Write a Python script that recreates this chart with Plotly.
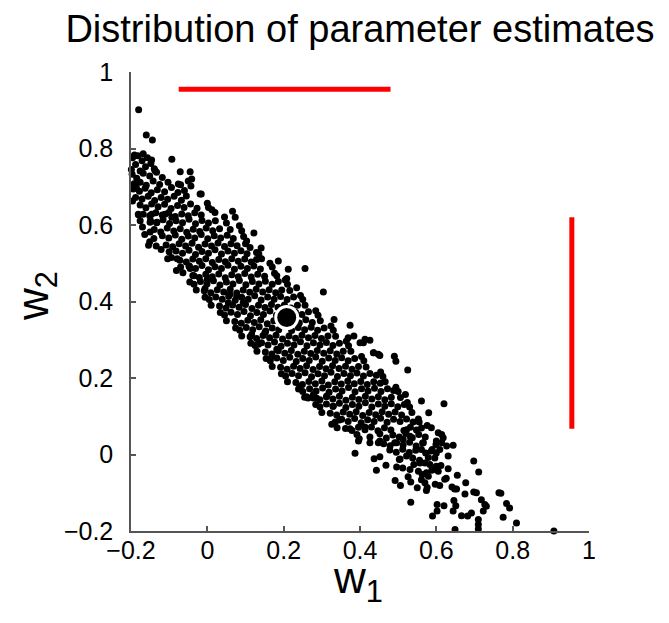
import plotly.graph_objects as go

# ---- data (w1, w2) ----
band_top = [
    (-0.196,0.776),(-0.182,0.781),(-0.171,0.768),(-0.188,0.758),(-0.162,0.752),(-0.148,0.761),(-0.199,0.745),(-0.176,0.741),(-0.139,0.747),(-0.157,0.776),
    (-0.197,0.733),(-0.185,0.722),(-0.168,0.735),(-0.151,0.728),(-0.133,0.738),(-0.118,0.724),(-0.192,0.708),(-0.176,0.712),(-0.160,0.704),(-0.142,0.715),(-0.125,0.706),(-0.103,0.712),(-0.186,0.699),
    (-0.194,0.694),(-0.178,0.688),(-0.163,0.696),(-0.147,0.684),(-0.131,0.692),(-0.112,0.687),(-0.094,0.698),(-0.077,0.685),(-0.188,0.672),(-0.171,0.668),(-0.155,0.675),(-0.138,0.664),(-0.121,0.672),(-0.104,0.667),(-0.087,0.675),(-0.068,0.665),(-0.055,0.676),
    (-0.176,0.652),(-0.161,0.645),(-0.146,0.655),(-0.129,0.648),(-0.112,0.654),(-0.095,0.643),(-0.078,0.651),(-0.061,0.646),(-0.044,0.655),(-0.027,0.644),(-0.168,0.628),(-0.151,0.624),(-0.135,0.632),(-0.118,0.626),(-0.101,0.633),(-0.084,0.622),(-0.067,0.629),(-0.050,0.624),(-0.033,0.632),(-0.016,0.626),
    (-0.149,0.612),(-0.133,0.606),(-0.116,0.614),(-0.099,0.604),(-0.082,0.611),(-0.065,0.606),(-0.048,0.615),(-0.031,0.603),(-0.014,0.612),(0.003,0.605),(0.021,0.611),(-0.139,0.588),(-0.122,0.582),(-0.105,0.592),(-0.088,0.584),(-0.071,0.590),(-0.054,0.581),(-0.037,0.589),(-0.020,0.583),(-0.003,0.592),(0.014,0.585),(0.032,0.590),
]
band_mid = [
    (-0.118,0.572),(-0.101,0.566),(-0.084,0.574),(-0.067,0.563),(-0.050,0.571),(-0.033,0.566),(-0.016,0.575),(0.001,0.564),(0.018,0.572),(0.035,0.566),(0.052,0.573),(0.068,0.565),(-0.108,0.548),(-0.091,0.543),(-0.074,0.551),(-0.057,0.545),(-0.040,0.552),(-0.023,0.542),(-0.006,0.550),(0.011,0.545),(0.028,0.553),(0.045,0.544),(0.062,0.551),(0.078,0.546),
    (-0.082,0.532),(-0.065,0.526),(-0.048,0.534),(-0.031,0.523),(-0.014,0.531),(0.003,0.526),(0.020,0.535),(0.037,0.524),(0.054,0.532),(0.071,0.526),(0.088,0.533),(0.104,0.525),(-0.072,0.508),(-0.055,0.503),(-0.038,0.511),(-0.021,0.505),(-0.004,0.512),(0.013,0.502),(0.030,0.510),(0.047,0.504),(0.064,0.512),(0.081,0.505),(0.098,0.511),(0.115,0.503),
    (-0.048,0.492),(-0.031,0.486),(-0.014,0.494),(0.003,0.483),(0.020,0.491),(0.037,0.486),(0.054,0.495),(0.071,0.484),(0.088,0.492),(0.105,0.486),(0.122,0.493),(0.139,0.485),(-0.038,0.468),(-0.021,0.463),(-0.004,0.471),(0.013,0.465),(0.030,0.472),(0.047,0.462),(0.064,0.470),(0.081,0.465),(0.098,0.473),(0.115,0.464),(0.132,0.471),(0.150,0.466),
    (-0.018,0.452),(-0.001,0.446),(0.016,0.454),(0.033,0.443),(0.050,0.451),(0.067,0.446),(0.084,0.455),(0.101,0.444),(0.118,0.452),(0.135,0.446),(0.152,0.453),(0.170,0.445),(0.186,0.452),(-0.008,0.428),(0.009,0.423),(0.026,0.431),(0.043,0.425),(0.060,0.432),(0.077,0.422),(0.094,0.430),(0.111,0.424),(0.128,0.432),(0.145,0.425),(0.162,0.431),(0.179,0.423),(0.195,0.430),
    (0.022,0.412),(0.039,0.406),(0.056,0.414),(0.073,0.403),(0.090,0.411),(0.107,0.406),(0.124,0.415),(0.141,0.404),(0.158,0.412),(0.175,0.406),(0.192,0.413),(0.209,0.405),(0.226,0.412),(0.032,0.388),(0.049,0.383),(0.066,0.391),(0.083,0.385),(0.100,0.392),(0.117,0.382),(0.134,0.390),(0.151,0.384),(0.168,0.392),(0.185,0.385),(0.202,0.391),(0.219,0.383),(0.236,0.390),
    (0.062,0.372),(0.079,0.366),(0.096,0.374),(0.113,0.363),(0.130,0.371),(0.147,0.366),(0.164,0.375),(0.181,0.364),(0.231,0.372),(0.248,0.366),(0.265,0.373),(0.072,0.348),(0.089,0.343),(0.106,0.351),(0.123,0.345),(0.140,0.352),(0.157,0.342),(0.174,0.350),(0.241,0.344),(0.258,0.352),(0.275,0.345),(0.198,0.368),(0.215,0.345),
    (0.102,0.332),(0.119,0.326),(0.136,0.334),(0.153,0.323),(0.170,0.331),(0.187,0.326),(0.204,0.335),(0.221,0.324),(0.238,0.332),(0.255,0.326),(0.272,0.333),(0.289,0.325),(0.306,0.331),(0.112,0.308),(0.129,0.303),(0.146,0.311),(0.163,0.305),(0.180,0.312),(0.197,0.302),(0.214,0.310),(0.231,0.304),(0.248,0.312),(0.265,0.305),(0.282,0.311),(0.299,0.303),(0.316,0.310),
]
band_low = [
    (0.142,0.292),(0.159,0.286),(0.176,0.294),(0.193,0.283),(0.210,0.291),(0.227,0.286),(0.244,0.295),(0.261,0.284),(0.278,0.292),(0.295,0.286),(0.312,0.293),(0.329,0.285),(0.346,0.291),(0.152,0.268),(0.169,0.263),(0.186,0.271),(0.203,0.265),(0.220,0.272),(0.237,0.262),(0.254,0.270),(0.271,0.264),(0.288,0.272),(0.305,0.265),(0.322,0.271),(0.339,0.263),(0.356,0.270),
    (0.182,0.252),(0.199,0.246),(0.216,0.254),(0.233,0.243),(0.250,0.251),(0.267,0.246),(0.284,0.255),(0.301,0.244),(0.318,0.252),(0.335,0.246),(0.352,0.253),(0.369,0.245),(0.386,0.251),(0.192,0.228),(0.209,0.223),(0.226,0.231),(0.243,0.225),(0.260,0.232),(0.277,0.222),(0.294,0.230),(0.311,0.224),(0.328,0.232),(0.345,0.225),(0.362,0.231),(0.379,0.223),(0.396,0.230),
    (0.222,0.212),(0.239,0.206),(0.256,0.214),(0.273,0.203),(0.290,0.211),(0.307,0.206),(0.324,0.215),(0.341,0.204),(0.358,0.212),(0.375,0.206),(0.392,0.213),(0.409,0.205),(0.426,0.212),(0.443,0.207),(0.232,0.188),(0.249,0.183),(0.266,0.191),(0.283,0.185),(0.300,0.192),(0.317,0.182),(0.334,0.190),(0.351,0.184),(0.368,0.192),(0.385,0.185),(0.402,0.191),(0.419,0.183),(0.436,0.190),(0.453,0.186),
    (0.268,0.172),(0.285,0.166),(0.302,0.174),(0.319,0.163),(0.336,0.171),(0.353,0.166),(0.370,0.175),(0.387,0.164),(0.404,0.172),(0.421,0.166),(0.438,0.173),(0.455,0.165),(0.472,0.172),(0.488,0.167),(0.278,0.148),(0.295,0.143),(0.312,0.151),(0.329,0.145),(0.346,0.152),(0.363,0.142),(0.380,0.150),(0.397,0.144),(0.414,0.152),(0.431,0.145),(0.448,0.151),(0.465,0.143),(0.482,0.150),
    (0.312,0.132),(0.329,0.126),(0.346,0.134),(0.363,0.123),(0.380,0.131),(0.397,0.126),(0.414,0.135),(0.431,0.124),(0.448,0.132),(0.465,0.126),(0.482,0.133),(0.499,0.125),(0.516,0.131),(0.322,0.108),(0.339,0.103),(0.356,0.111),(0.373,0.105),(0.390,0.112),(0.407,0.102),(0.424,0.110),(0.441,0.104),(0.458,0.112),(0.475,0.105),(0.492,0.111),(0.509,0.103),
    (0.352,0.092),(0.369,0.086),(0.386,0.094),(0.403,0.083),(0.420,0.091),(0.437,0.086),(0.454,0.095),(0.471,0.084),(0.488,0.092),(0.505,0.086),(0.522,0.093),(0.539,0.085),(0.362,0.068),(0.379,0.063),(0.396,0.071),(0.413,0.065),(0.430,0.072),(0.447,0.062),(0.464,0.070),(0.481,0.064),(0.515,0.063),(0.532,0.071),(0.548,0.064),
    (0.392,0.052),(0.426,0.046),(0.452,0.054),(0.469,0.043),(0.486,0.051),(0.503,0.046),(0.520,0.055),(0.537,0.044),(0.554,0.052),(0.571,0.046),(0.462,0.028),(0.479,0.023),(0.496,0.031),(0.513,0.025),(0.530,0.032),(0.547,0.022),(0.564,0.030),
    (0.478,0.012),(0.495,0.006),(0.512,0.014),(0.529,0.005),(0.546,0.011),(0.572,0.004),(0.589,0.013),(0.452,-0.006),(0.505,-0.012),(0.522,-0.004),(0.556,-0.015),(0.579,-0.008),
    (0.468,-0.028),(0.512,-0.035),(0.541,-0.026),(0.563,-0.052),(0.588,-0.041),(0.612,-0.029),(0.526,-0.058),
    (0.492,-0.068),(0.533,-0.072),(0.561,-0.066),(0.597,-0.078),(0.626,-0.062),(0.641,-0.085),(0.574,-0.094),
]
band_fringe = [
    (-0.070,0.705),(-0.060,0.690),(-0.050,0.715),(0.000,0.657),(0.012,0.640),
    (-0.170,0.595),(-0.176,0.611),(-0.164,0.575),(0.050,0.605),(0.060,0.588),(0.045,0.621),
    (-0.140,0.565),(-0.134,0.545),(-0.151,0.556),(0.095,0.570),(0.100,0.551),(0.090,0.585),
    (-0.100,0.530),(-0.094,0.515),(-0.121,0.536),(0.135,0.524),(0.141,0.540),(0.129,0.510),
    (-0.070,0.490),(-0.064,0.475),(-0.081,0.481),(0.170,0.490),(0.176,0.474),(0.164,0.500),
    (-0.035,0.445),(-0.029,0.430),(-0.046,0.451),(0.210,0.445),(0.216,0.429),(0.204,0.456),
    (0.005,0.405),(0.010,0.390),(-0.006,0.411),(0.250,0.405),(0.256,0.390),(0.244,0.416),
    (0.045,0.365),(0.050,0.350),(0.034,0.371),(0.290,0.364),(0.296,0.350),(0.284,0.376),
    (0.085,0.325),(0.090,0.310),(0.074,0.331),(0.330,0.325),(0.336,0.309),(0.324,0.336),
    (0.125,0.285),(0.130,0.270),(0.114,0.291),(0.370,0.284),(0.376,0.270),(0.364,0.296),
    (0.165,0.245),(0.170,0.230),(0.154,0.251),(0.410,0.245),(0.416,0.229),(0.404,0.256),
    (0.205,0.205),(0.210,0.190),(0.194,0.211),(0.460,0.204),(0.466,0.190),(0.454,0.216),
    (0.250,0.165),(0.255,0.150),(0.239,0.171),(0.500,0.165),(0.506,0.149),(0.494,0.176),
    (0.295,0.125),(0.300,0.110),(0.284,0.131),(0.530,0.124),(0.536,0.110),(0.524,0.136),
    (0.335,0.085),(0.340,0.070),(0.555,0.085),(0.561,0.069),
]
edge_upper = [
    (-0.180,0.901),(-0.160,0.835),(-0.144,0.822),(-0.093,0.772),(-0.071,0.739),(-0.045,0.739),(-0.191,0.783),(-0.168,0.786),(-0.146,0.770),(-0.137,0.742),
    (-0.196,0.663),(-0.180,0.627),(-0.154,0.547),(-0.150,0.582),(-0.181,0.628),(-0.146,0.628),(-0.111,0.628),(-0.093,0.620),(-0.150,0.607),(-0.132,0.607),
    (-0.104,0.512),(-0.079,0.512),(-0.047,0.493),(-0.019,0.681),(-0.043,0.702),(-0.041,0.720),(-0.076,0.707),(-0.016,0.681),(0.003,0.646),(0.020,0.633),
    (0.066,0.636),(0.073,0.620),(0.084,0.598),(0.122,0.579),(0.103,0.558),(0.112,0.541),(0.129,0.528),(0.142,0.512),(0.186,0.506),(0.212,0.484),
    (0.256,0.486),(0.208,0.460),(0.182,0.467),(0.234,0.436),(0.304,0.425),(0.332,0.353),(0.374,0.338),(0.413,0.301),(0.426,0.299),(0.436,0.266),
    (0.448,0.262),(0.490,0.257),(0.494,0.244),(0.525,0.221),(0.384,0.310),(0.369,0.305),(0.409,0.292),(0.400,0.292),(0.452,0.259),(0.435,0.266),
    (0.116,0.314),(0.151,0.319),(0.134,0.288),(0.169,0.256),(0.182,0.275),(-0.045,0.486),(-0.035,0.467),(-0.006,0.434),(0.000,0.458),(0.055,0.397),
    (0.059,0.419),(0.094,0.397),(0.077,0.414),
]
edge_lower = [
    (0.243,0.177),(0.264,0.148),(0.278,0.157),(0.326,0.079),(0.346,0.090),(0.313,0.153),(0.330,0.126),(0.260,0.151),(0.286,0.148),(0.374,0.067),
    (0.413,0.072),(0.398,0.041),(0.448,0.031),(0.387,0.003),(0.396,0.035),(0.426,0.031),(0.452,0.035),(0.437,-0.011),(0.443,-0.041),
    (0.519,0.157),(0.561,0.140),(0.620,0.133),(0.580,0.109),(0.553,0.093),(0.576,0.076),(0.587,0.070),(0.605,0.057),(0.614,0.052),(0.644,0.024),
    (0.698,-0.017),(0.711,-0.046),(0.769,-0.101),(0.784,-0.128),(0.792,-0.140),(0.775,-0.164),(0.810,-0.179),(0.908,-0.200),(0.649,-0.196),
    (0.710,-0.170),(0.710,-0.183),(0.710,-0.195),(0.590,-0.161),(0.602,-0.148),(0.602,-0.131),(0.620,-0.134),(0.644,-0.148),(0.666,-0.160),
    (0.682,-0.161),(0.692,-0.153),(0.646,-0.120),(0.651,-0.134),(0.718,-0.118),(0.727,-0.131),(0.731,-0.135),(0.723,-0.148),(0.698,-0.098),
    (0.705,-0.100),(0.675,-0.103),(0.648,-0.090),(0.653,-0.090),(0.677,-0.074),(0.655,-0.054),(0.631,-0.037),(0.622,-0.065),(0.609,-0.081),
    (0.576,-0.086),(0.570,-0.074),(0.550,-0.087),(0.533,-0.125),(0.506,-0.081),(0.574,-0.048),(0.579,-0.057),(0.599,-0.039),(0.605,-0.044),
    (0.600,-0.031),(0.553,-0.044),(0.531,-0.039),(0.557,-0.022),(0.570,-0.022),(0.583,-0.026),(0.496,-0.033),(0.503,-0.013),(0.538,-0.009),
    (0.596,-0.009),(0.600,0.004),(0.609,0.013),(0.561,0.013),(0.566,0.031),(0.587,0.009),(0.631,-0.004),(0.627,0.022),(0.599,0.026),
    (0.600,0.035),(0.618,0.044),(0.614,0.031),(0.491,0.031),(0.513,0.039),(0.531,0.048),(0.522,0.065),(0.764,-0.100),
]

estimate_w1 = [0.208]
estimate_w2 = [0.358]

interval_w1_x = [-0.075, 0.48]   # horizontal red bar (range of w1)
interval_w1_y = [0.955, 0.955]
interval_w2_x = [0.955, 0.955]   # vertical red bar (range of w2)
interval_w2_y = [0.067, 0.62]

tick_vals = [-0.2, 0, 0.2, 0.4, 0.6, 0.8, 1]
tick_text = ["\u22120.2", "0", "0.2", "0.4", "0.6", "0.8", "1"]

all_pts = band_top + band_mid + band_low + band_fringe + edge_upper + edge_lower
w1 = [p[0] for p in all_pts]
w2 = [p[1] for p in all_pts]

FONT = "Liberation Sans, Arial, Helvetica, sans-serif"

fig = go.Figure()
fig.add_trace(go.Scatter(x=w1, y=w2, mode="markers",
                         marker=dict(size=7, color="black", line=dict(width=0)),
                         cliponaxis=False, showlegend=False))
fig.add_trace(go.Scatter(x=interval_w1_x, y=interval_w1_y, mode="lines",
                         line=dict(color="#ff0000", width=5), showlegend=False))
fig.add_trace(go.Scatter(x=interval_w2_x, y=interval_w2_y, mode="lines",
                         line=dict(color="#ff0000", width=5), showlegend=False))
fig.add_trace(go.Scatter(x=estimate_w1, y=estimate_w2, mode="markers",
                         marker=dict(size=22, color="black", line=dict(color="white", width=3)),
                         cliponaxis=False, showlegend=False))

axis_common = dict(
    range=[-0.2, 1], tickvals=tick_vals, ticktext=tick_text,
    showgrid=False, zeroline=False, showline=True, linecolor="#555555", linewidth=1.5,
    ticks="inside", ticklen=5, tickwidth=1.5, tickcolor="#555555",
    tickfont=dict(family=FONT, size=25, color="black"),
    automargin=False,
)

fig.update_layout(
    width=669, height=623,
    margin=dict(l=131, r=80, t=72, b=92),
    paper_bgcolor="white", plot_bgcolor="white",
    title=dict(text="Distribution of parameter estimates", x=0.5, xref="paper",
               y=1 - 29 / 623, yref="container", yanchor="middle", xanchor="center",
               font=dict(family=FONT, size=38, color="black"), automargin=False),
    xaxis=dict(**axis_common, ticklabelstandoff=-4),
    yaxis=dict(**axis_common, ticklabelstandoff=11),
    annotations=[
        dict(text="w<sub>1</sub>", xref="paper", yref="paper", x=(358 - 131) / 458, y=(531 - 581) / 459,
             xanchor="center", yanchor="middle", showarrow=False,
             font=dict(family=FONT, size=44, color="black")),
        dict(text="w<sub>2</sub>", xref="paper", yref="paper", x=(36 - 131) / 458, y=(531 - 296) / 459,
             xanchor="center", yanchor="middle", showarrow=False, textangle=-90,
             font=dict(family=FONT, size=44, color="black")),
    ],
)

fig.write_html("out.html", config={"displayModeBar": False},
               post_script="document.body.style.margin='0px';document.body.style.overflow='hidden';")
